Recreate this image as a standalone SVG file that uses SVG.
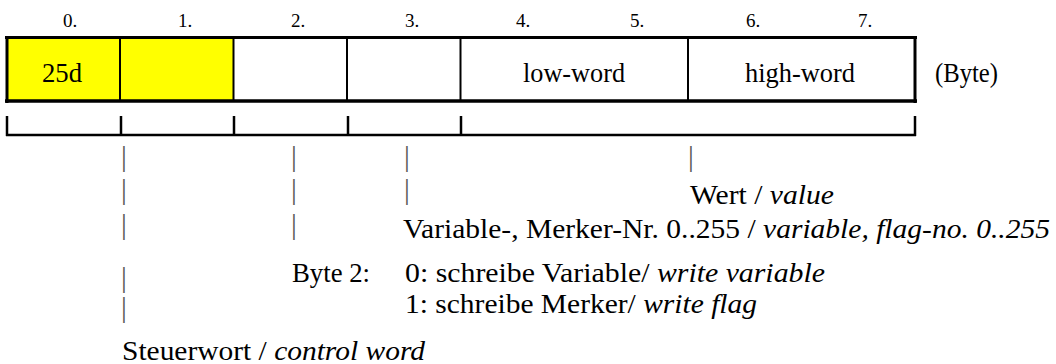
<svg xmlns="http://www.w3.org/2000/svg" width="1056" height="364" viewBox="0 0 1056 364">
<style>
text{font-family:"Liberation Serif","Times New Roman",serif;fill:#000}
.lbl{font-size:19px;text-anchor:middle}
.cell{font-size:27px}
.body{font-size:28px}
.pipe{font-size:29px;fill:#555}
.it{font-style:italic}
.b{stroke:#000;fill:none}
</style>
<rect x="0" y="0" width="1056" height="364" fill="#fff"/>
<g id="labels">
<text class="lbl" x="70" y="27">0.</text>
<text class="lbl" x="185" y="27">1.</text>
<text class="lbl" x="298" y="27">2.</text>
<text class="lbl" x="412" y="27">3.</text>
<text class="lbl" x="523" y="27">4.</text>
<text class="lbl" x="637" y="27">5.</text>
<text class="lbl" x="753" y="27">6.</text>
<text class="lbl" x="865" y="27">7.</text>
</g>
<g id="byte0"><rect x="7" y="38" width="113" height="62" fill="#ffff00"/><text class="cell" x="42" y="82" textLength="40" lengthAdjust="spacingAndGlyphs">25d</text></g>
<g id="byte1"><rect x="120" y="38" width="113" height="62" fill="#ffff00"/></g>
<g id="byte2"><rect x="233" y="38" width="113" height="62" fill="#fff"/></g>
<g id="byte3"><rect x="346" y="38" width="114" height="62" fill="#fff"/></g>
<g id="lowword"><text class="cell" x="523" y="82" textLength="102" lengthAdjust="spacingAndGlyphs">low-word</text></g>
<g id="highword"><text class="cell" x="745" y="82" textLength="110" lengthAdjust="spacingAndGlyphs">high-word</text></g>
<g id="unit"><text class="cell" x="935" y="82" textLength="63" lengthAdjust="spacingAndGlyphs">(Byte)</text></g>
<g id="frame">
<line class="b" x1="5" y1="37.5" x2="917" y2="37.5" stroke-width="3"/>
<line class="b" x1="5" y1="101" x2="917" y2="101" stroke-width="3.5"/>
<line class="b" x1="7" y1="36" x2="7" y2="103" stroke-width="3"/>
<line class="b" x1="915" y1="36" x2="915" y2="103" stroke-width="3"/>
<g stroke-width="2"><line class="b" x1="120" y1="38" x2="120" y2="100"/><line class="b" x1="233.5" y1="38" x2="233.5" y2="100"/><line class="b" x1="347" y1="38" x2="347" y2="100"/><line class="b" x1="460.5" y1="38" x2="460.5" y2="100"/><line class="b" x1="688" y1="38" x2="688" y2="100"/></g>
</g>
<g id="connectors">
<line class="b" x1="6" y1="135" x2="916" y2="135" stroke-width="2.5"/>
<g stroke-width="2.5"><line class="b" x1="7" y1="116" x2="7" y2="136"/><line class="b" x1="121" y1="116" x2="121" y2="136"/><line class="b" x1="234" y1="116" x2="234" y2="136"/><line class="b" x1="348" y1="116" x2="348" y2="136"/><line class="b" x1="461" y1="116" x2="461" y2="136"/><line class="b" x1="915" y1="116" x2="915" y2="136"/></g>
<text class="pipe" x="121" y="166">|</text><text class="pipe" x="291" y="166">|</text><text class="pipe" x="404" y="166">|</text><text class="pipe" x="688" y="166">|</text>
<text class="pipe" x="121" y="199">|</text><text class="pipe" x="291" y="199">|</text><text class="pipe" x="404" y="199">|</text>
<text class="pipe" x="121" y="234">|</text><text class="pipe" x="291" y="234">|</text>
<text class="pipe" x="121" y="287">|</text>
<text class="pipe" x="121" y="317">|</text>
</g>
<g id="value"><text class="body" x="690" y="204" textLength="144" lengthAdjust="spacingAndGlyphs">Wert / <tspan class="it">value</tspan></text></g>
<g id="varno"><text class="body" x="403" y="238" textLength="647" lengthAdjust="spacingAndGlyphs">Variable-, Merker-Nr. 0..255 / <tspan class="it">variable, flag-no. 0..255</tspan></text></g>
<g id="byte2desc">
<text class="body" x="292" y="282" textLength="78" lengthAdjust="spacingAndGlyphs">Byte 2:</text>
<text class="body" x="405" y="282" textLength="420" lengthAdjust="spacingAndGlyphs">0: schreibe Variable/ <tspan class="it">write variable</tspan></text>
<text class="body" x="405" y="313" textLength="352" lengthAdjust="spacingAndGlyphs">1: schreibe Merker/ <tspan class="it">write flag</tspan></text>
</g>
<g id="control"><text class="body" x="122" y="360" textLength="303" lengthAdjust="spacingAndGlyphs">Steuerwort / <tspan class="it">control word</tspan></text></g>
</svg>
